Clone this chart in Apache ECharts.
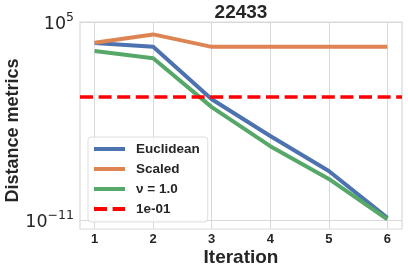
<!DOCTYPE html>
<html>
<head>
<meta charset="utf-8">
<script src="https://cdn.jsdelivr.net/npm/echarts@6/dist/echarts.min.js"></script>
<style>html,body{margin:0;padding:0;background:#fff}#c{width:408px;height:272px}</style>
</head>
<body>
<div id="c"></div>
<script>
const titleText = '22433';
const iterations = [1, 2, 3, 4, 5, 6];
const euclidean = [2.0e3, 1.0e3, 6e-2, 6.6e-5, 1.0e-7, 1.7e-11];
const scaled = [2.1e3, 1.0e4, 1.0e3, 1.0e3, 1.0e3, 1.0e3];
const nu1 = [4.6e2, 1.2e2, 1.4e-2, 1.0e-5, 2.3e-8, 1.3e-11];
const threshold = [0.1];
const seriesNames = ['Euclidean', 'Scaled', '\u03bd = 1.0', '1e-01'];
const xTicks = [1, 2, 3, 4, 5, 6];
const yTickExps = [-11, 5];

const yTickValues = yTickExps.map(e => Math.pow(10, e));
const pair = arr => iterations.map((x, i) => [x, arr[i]]);
const boldFont = 'Liberation Sans, Arial, sans-serif';
const txt = '#262626';
const gridCol = '#d9d9d9';

const chart = echarts.init(document.getElementById('c'), null, {renderer: 'canvas'});
chart.setOption({
  animation: false,
  backgroundColor: '#ffffff',
  title: {
    text: titleText, left: 241, top: 3, padding: 0, textAlign: 'center',
    textStyle: {fontFamily: boldFont, fontWeight: 'bold', fontSize: 19, color: txt}
  },
  grid: {left: 80, right: 6, top: 22, bottom: 43, show: true, borderColor: gridCol, borderWidth: 1.2,
    containLabel: false, outerBoundsMode: 'none'},
  xAxis: {
    type: 'value', min: 0.75, max: 6.25,
    name: 'Iteration', nameLocation: 'middle', nameGap: 19, nameMoveOverlap: false,
    nameTextStyle: {fontFamily: boldFont, fontWeight: 'bold', fontSize: 19, color: txt},
    axisLine: {show: false},
    axisTick: {show: false, customValues: xTicks},
    axisLabel: {customValues: xTicks, margin: 4, fontFamily: boldFont, fontWeight: 'bold', fontSize: 13, color: txt},
    splitLine: {show: true, lineStyle: {color: gridCol, width: 1}}
  },
  yAxis: {
    type: 'log', logBase: 10, min: Math.pow(10, -11.67), max: 1e5,
    name: 'Distance metrics', nameLocation: 'middle', nameGap: 58, nameRotate: 90, nameMoveOverlap: false,
    nameTextStyle: {fontFamily: boldFont, fontWeight: 'bold', fontSize: 18, color: txt, padding: [0, 10, 0, 0]},
    axisLine: {show: false},
    axisTick: {show: false, customValues: yTickValues},
    axisLabel: {
      customValues: yTickValues, margin: 6,
      formatter: v => {
        const e = Math.round(Math.log10(v));
        return '{b|10}{e|' + (e < 0 ? '\u2212' + (-e) : e) + '}';
      },
      rich: {
        b: {fontFamily: 'DejaVu Sans', fontSize: 17.5, color: txt, verticalAlign: 'bottom', lineHeight: 22},
        e: {fontFamily: 'DejaVu Sans', fontSize: 12.5, color: txt, verticalAlign: 'top', lineHeight: 22}
      }
    },
    splitLine: {show: true, lineStyle: {color: gridCol, width: 1}}
  },
  legend: {
    orient: 'vertical', left: 88, top: 137,
    data: seriesNames,
    itemWidth: 31, itemHeight: 14, itemGap: 6,
    padding: [5, 8, 6, 4],
    itemStyle: {opacity: 0},
    lineStyle: {width: 4},
    backgroundColor: 'rgba(255,255,255,0.8)', borderColor: '#dddddd', borderWidth: 1, borderRadius: 3,
    textStyle: {fontFamily: boldFont, fontWeight: 'bold', fontSize: 13.5, color: txt, padding: [0, 0, 0, 6]}
  },
  series: [
    {name: seriesNames[0], type: 'line', data: pair(euclidean), symbol: 'none', lineStyle: {color: '#4c72b0', width: 4}, itemStyle: {color: '#4c72b0'}},
    {name: seriesNames[1], type: 'line', data: pair(scaled), symbol: 'none', lineStyle: {color: '#dd8452', width: 4}, itemStyle: {color: '#dd8452'}},
    {name: seriesNames[2], type: 'line', data: pair(nu1), symbol: 'none', lineStyle: {color: '#55a868', width: 4}, itemStyle: {color: '#55a868'}},
    {name: seriesNames[3], type: 'line', data: [], symbol: 'none',
      lineStyle: {color: '#ff0000', width: 3.5, type: [13, 5.6]}, itemStyle: {color: '#ff0000'},
      markLine: {silent: true, symbol: 'none', label: {show: false},
        lineStyle: {color: '#ff0000', width: 3.5, type: [13, 5.6]},
        data: threshold.map(v => ({yAxis: v}))}
    }
  ]
});
</script>
</body>
</html>
